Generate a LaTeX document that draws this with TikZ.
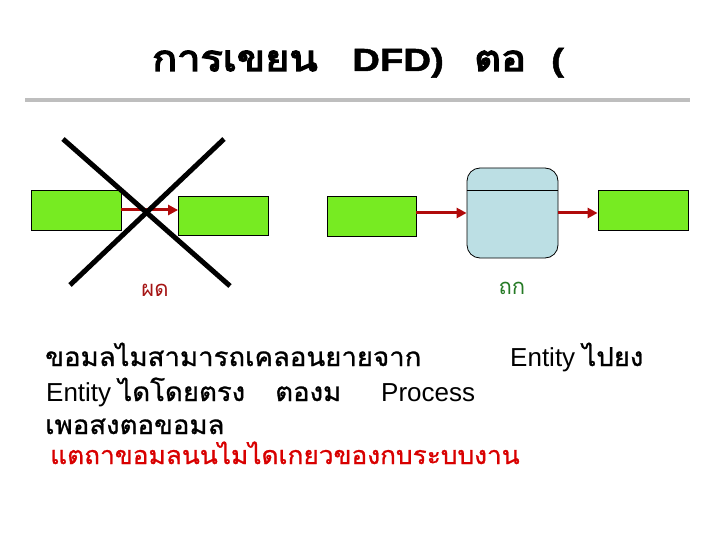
\documentclass[tikz,border=0pt]{standalone}
\usepackage{fontspec}
\setmainfont{Liberation Sans}
\newfontfamily\thai[Script=Thai,FakeStretch=1.06,FakeBold=1]{Loma}
\newfontfamily\thainote[Script=Thai,FakeStretch=1.05,FakeBold=1]{Loma}
\newfontfamily\thaiplain[Script=Thai]{Loma}
\newfontfamily\thaibf[Script=Thai,FakeStretch=1.15,FakeBold=4]{Loma}
\newfontfamily\latbf[FakeStretch=1.2,FakeBold=1.5]{Liberation Sans Bold}
\usetikzlibrary{arrows.meta}
\definecolor{boxgreen}{HTML}{77EB22}
\definecolor{storeblue}{HTML}{BCDFE4}
\definecolor{arrowred}{HTML}{B00A0A}
\definecolor{wrongred}{HTML}{A51515}
\definecolor{rightgreen}{HTML}{257A25}
\definecolor{rulegray}{HTML}{BEBEBE}
\definecolor{notered}{HTML}{D80000}
\tikzset{
  entity/.style={draw=black, line width=0.8pt, fill=boxgreen, minimum width=#1, minimum height=40pt, inner sep=0pt},
  entity/.default=90pt,
  flow/.style={draw=arrowred, line width=3pt, -{Triangle[length=10pt,width=10pt]}},
  cross/.style={draw=black, line width=5pt},
  body/.style={anchor=base west, inner sep=0pt, font=\fontsize{26}{30}\selectfont},
  ttl/.style={anchor=base west, inner sep=0pt, font=\fontsize{36}{40}\selectfont},
  ttll/.style={anchor=base west, inner sep=0pt, font=\fontsize{32}{36}\selectfont},
}
\begin{document}
\begin{tikzpicture}[x=1pt,y=-1pt]
\useasboundingbox (0,0) rectangle (720,540);
% title
\node[ttl] (t1) at (152,71) {\thaibf การเขยน};
\node[ttll] (t2) at (352,71) {\latbf DFD)};
\node[ttl] (t3) at (474,71) {\thaibf ตอ};
\node[ttll] (t4) at (551,71) {\latbf (};
\coordinate (rl) at (25,100);
\coordinate (rr) at (690,100);
\draw[rulegray, line width=4pt] (rl) -- (rr);
% wrong example
\node[entity] (b1) at (76,210) {};
\node[entity, minimum height=39pt] (b2) at (223.5,215.5) {};
\draw[flow] (b1.east) -- (b1.east -| b2.west);
\coordinate (x1a) at (63,139);
\coordinate (x1b) at (230,286);
\coordinate (x2a) at (224,139);
\coordinate (x2b) at (70,285);
\draw[cross] (x1a) -- (x1b);
\draw[cross] (x2a) -- (x2b);
\node[text=wrongred, font=\thaiplain\fontsize{22}{26}\selectfont] (lw) at (155,290) {ผด};
% right example
\node[entity, minimum width=89pt] (b3) at (371.5,216) {};
\node[draw=black, line width=0.8pt, fill=storeblue, rounded corners=13pt, minimum width=91pt, minimum height=90pt, inner sep=0pt] (st) at (512.5,213) {};
\draw[line width=0.8pt] ([yshift=-23pt]st.north west) -- ([yshift=-23pt]st.north east);
\node[entity] (b4) at (643,210) {};
\draw[flow] (st.west -| b3.east) -- (st.west);
\draw[flow] (st.east) -- (st.east -| b4.west);
\node[text=rightgreen, font=\thaiplain\fontsize{22}{26}\selectfont] (lr) at (512,288) {ถก};
% body text
\node[body] (l1a) at (45,366) {\thai ขอมลไมสามารถเคลอนยายจาก};
\node[body] (l1b) at (510,366) {Entity {\thai ไปยง}};
\node[body] (l2a) at (46,401) {Entity {\thai ไดโดยตรง}};
\node[body] (l2c) at (275,401) {\thai ตองม};
\node[body] (l2d) at (381,401) {Process};
\node[body] (l3) at (45,434) {\thai เพอสงตอขอมล};
\node[body, text=notered, font=\fontsize{25}{30}\selectfont] (l4) at (50,464) {\thainote แตถาขอมลนนไมไดเกยวของกบระบบงาน};
\end{tikzpicture}
\end{document}
